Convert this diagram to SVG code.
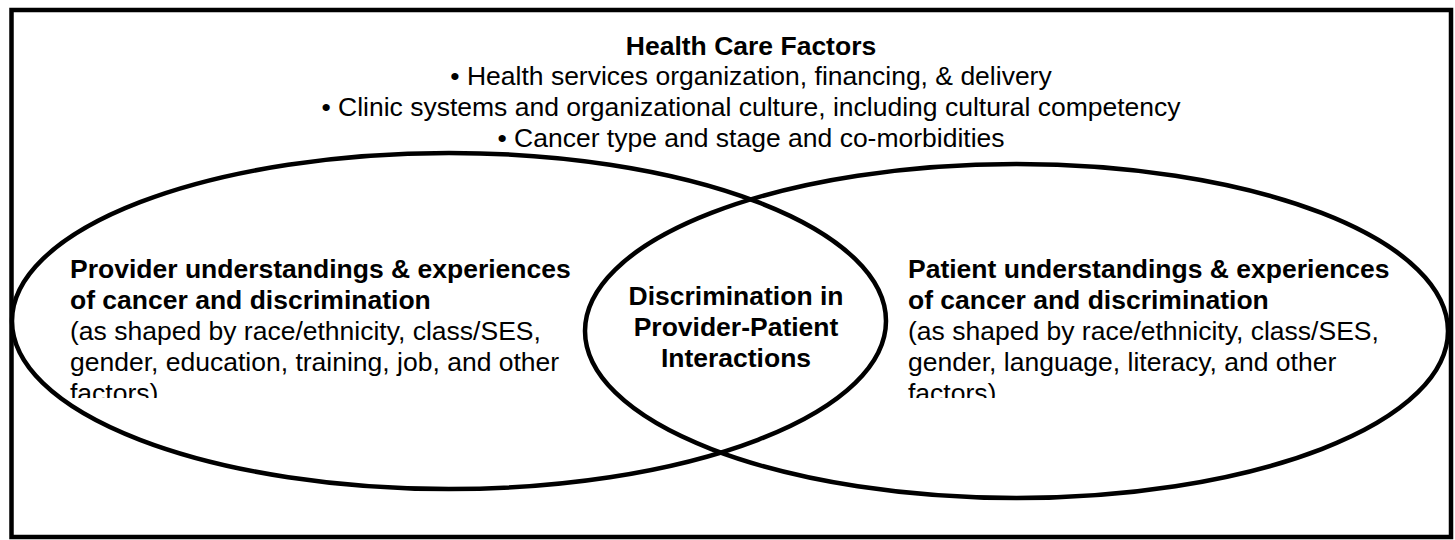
<svg xmlns="http://www.w3.org/2000/svg" width="1455" height="540" viewBox="0 0 1455 540">
<style>
.t{font-family:"Liberation Sans",Arial,sans-serif;font-size:26.5px;fill:#000}
.b{font-weight:bold}
.c{text-anchor:middle}
.sh{fill:none;stroke:#000;stroke-width:4.5}
</style>
<defs>
<clipPath id="clipL"><rect x="0" y="0" width="1455" height="398"/></clipPath>
</defs>
<rect width="1455" height="540" fill="#fff"/>
<g id="frame"><rect class="sh" x="11.5" y="10" width="1439.5" height="527"/></g>
<g id="connectors"></g>
<g id="health-care-factors">
<text class="t b c" x="751" y="55">Health Care Factors</text>
<text class="t c" x="751" y="85">• Health services organization, financing, &amp; delivery</text>
<text class="t c" x="751" y="116">• Clinic systems and organizational culture, including cultural competency</text>
<text class="t c" x="751" y="147">• Cancer type and stage and co-morbidities</text>
</g>
<g id="provider">
<ellipse class="sh" cx="449" cy="321" rx="437" ry="168"/>
<g clip-path="url(#clipL)">
<text class="t b" x="70" y="278">Provider understandings &amp; experiences</text>
<text class="t b" x="70" y="309">of cancer and discrimination</text>
<text class="t" x="70" y="340">(as shaped by race/ethnicity, class/SES,</text>
<text class="t" x="70" y="371">gender, education, training, job, and other</text>
<text class="t" x="70" y="402">factors)</text>
</g>
</g>
<g id="patient">
<ellipse class="sh" cx="1016.5" cy="331" rx="431.5" ry="167"/>
<g clip-path="url(#clipL)">
<text class="t b" x="908" y="278">Patient understandings &amp; experiences</text>
<text class="t b" x="908" y="309">of cancer and discrimination</text>
<text class="t" x="908" y="340">(as shaped by race/ethnicity, class/SES,</text>
<text class="t" x="908" y="371">gender, language, literacy, and other</text>
<text class="t" x="908" y="402">factors)</text>
</g>
</g>
<g id="interaction">
<text class="t b c" x="736" y="305">Discrimination in</text>
<text class="t b c" x="736" y="336">Provider-Patient</text>
<text class="t b c" x="736" y="367">Interactions</text>
</g>
</svg>
